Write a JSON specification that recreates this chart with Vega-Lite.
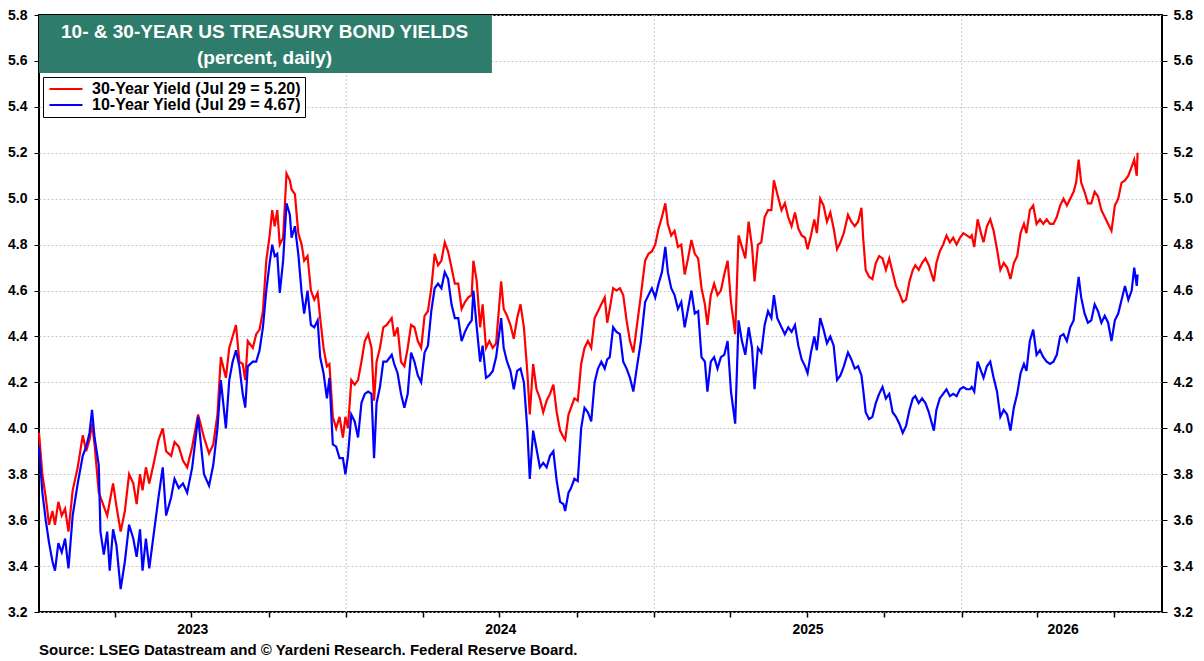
{
  "$schema": "https://vega.github.io/schema/vega-lite/v6.json",
  "width": 1204,
  "height": 661,
  "autosize": {"type": "fit", "contains": "padding"},
  "padding": {"left": 7, "right": 11, "top": 8, "bottom": 3},
  "background": "white",
  "title": {
    "text": "Source: LSEG Datastream and © Yardeni Research. Federal Reserve Board.",
    "orient": "bottom",
    "anchor": "start",
    "frame": "group",
    "fontSize": 15,
    "fontWeight": "bold",
    "color": "black",
    "offset": 7
  },
  "data": {
    "values": [
      {"date": "2023-01-01", "y30": 3.98, "y10": 3.92},
      {"date": "2023-01-05", "y30": 3.80, "y10": 3.72},
      {"date": "2023-01-09", "y30": 3.70, "y10": 3.60},
      {"date": "2023-01-13", "y30": 3.58, "y10": 3.50},
      {"date": "2023-01-17", "y30": 3.64, "y10": 3.42},
      {"date": "2023-01-20", "y30": 3.58, "y10": 3.38},
      {"date": "2023-01-24", "y30": 3.68, "y10": 3.50},
      {"date": "2023-01-28", "y30": 3.62, "y10": 3.46},
      {"date": "2023-02-01", "y30": 3.65, "y10": 3.52},
      {"date": "2023-02-05", "y30": 3.55, "y10": 3.39},
      {"date": "2023-02-10", "y30": 3.73, "y10": 3.62},
      {"date": "2023-02-16", "y30": 3.83, "y10": 3.76},
      {"date": "2023-02-22", "y30": 3.97, "y10": 3.88},
      {"date": "2023-02-26", "y30": 3.90, "y10": 3.92},
      {"date": "2023-03-02", "y30": 3.95, "y10": 3.98},
      {"date": "2023-03-05", "y30": 4.02, "y10": 4.08},
      {"date": "2023-03-08", "y30": 3.93, "y10": 3.96},
      {"date": "2023-03-13", "y30": 3.72, "y10": 3.84},
      {"date": "2023-03-15", "y30": 3.70, "y10": 3.55},
      {"date": "2023-03-19", "y30": 3.66, "y10": 3.45},
      {"date": "2023-03-23", "y30": 3.62, "y10": 3.55},
      {"date": "2023-03-26", "y30": 3.68, "y10": 3.38},
      {"date": "2023-03-30", "y30": 3.76, "y10": 3.56},
      {"date": "2023-04-03", "y30": 3.66, "y10": 3.49},
      {"date": "2023-04-08", "y30": 3.55, "y10": 3.30},
      {"date": "2023-04-13", "y30": 3.64, "y10": 3.42},
      {"date": "2023-04-18", "y30": 3.80, "y10": 3.58},
      {"date": "2023-04-23", "y30": 3.76, "y10": 3.52},
      {"date": "2023-04-27", "y30": 3.67, "y10": 3.44},
      {"date": "2023-05-01", "y30": 3.80, "y10": 3.56},
      {"date": "2023-05-04", "y30": 3.73, "y10": 3.38},
      {"date": "2023-05-08", "y30": 3.83, "y10": 3.52},
      {"date": "2023-05-12", "y30": 3.76, "y10": 3.39},
      {"date": "2023-05-18", "y30": 3.86, "y10": 3.56},
      {"date": "2023-05-23", "y30": 3.95, "y10": 3.70},
      {"date": "2023-05-28", "y30": 4.00, "y10": 3.83},
      {"date": "2023-06-01", "y30": 3.90, "y10": 3.62},
      {"date": "2023-06-07", "y30": 3.88, "y10": 3.70},
      {"date": "2023-06-11", "y30": 3.94, "y10": 3.78},
      {"date": "2023-06-16", "y30": 3.92, "y10": 3.74},
      {"date": "2023-06-21", "y30": 3.86, "y10": 3.76},
      {"date": "2023-06-26", "y30": 3.83, "y10": 3.72},
      {"date": "2023-07-02", "y30": 3.92, "y10": 3.83},
      {"date": "2023-07-09", "y30": 4.06, "y10": 4.05},
      {"date": "2023-07-16", "y30": 3.96, "y10": 3.80},
      {"date": "2023-07-22", "y30": 3.89, "y10": 3.75},
      {"date": "2023-07-27", "y30": 3.93, "y10": 3.84},
      {"date": "2023-08-01", "y30": 4.06, "y10": 4.00},
      {"date": "2023-08-05", "y30": 4.31, "y10": 4.21},
      {"date": "2023-08-11", "y30": 4.22, "y10": 4.00},
      {"date": "2023-08-15", "y30": 4.35, "y10": 4.21},
      {"date": "2023-08-19", "y30": 4.40, "y10": 4.29},
      {"date": "2023-08-23", "y30": 4.45, "y10": 4.34},
      {"date": "2023-08-27", "y30": 4.29, "y10": 4.27},
      {"date": "2023-08-31", "y30": 4.28, "y10": 4.15},
      {"date": "2023-09-03", "y30": 4.21, "y10": 4.09},
      {"date": "2023-09-06", "y30": 4.38, "y10": 4.27},
      {"date": "2023-09-12", "y30": 4.35, "y10": 4.29},
      {"date": "2023-09-16", "y30": 4.41, "y10": 4.29},
      {"date": "2023-09-20", "y30": 4.43, "y10": 4.34},
      {"date": "2023-09-24", "y30": 4.51, "y10": 4.44},
      {"date": "2023-09-28", "y30": 4.73, "y10": 4.60},
      {"date": "2023-10-02", "y30": 4.84, "y10": 4.72},
      {"date": "2023-10-05", "y30": 4.95, "y10": 4.80},
      {"date": "2023-10-08", "y30": 4.88, "y10": 4.75},
      {"date": "2023-10-11", "y30": 4.95, "y10": 4.76},
      {"date": "2023-10-14", "y30": 4.80, "y10": 4.59},
      {"date": "2023-10-18", "y30": 4.83, "y10": 4.73},
      {"date": "2023-10-22", "y30": 5.11, "y10": 4.98},
      {"date": "2023-10-26", "y30": 5.08, "y10": 4.93},
      {"date": "2023-10-28", "y30": 5.04, "y10": 4.83},
      {"date": "2023-11-01", "y30": 5.02, "y10": 4.88},
      {"date": "2023-11-05", "y30": 4.85, "y10": 4.76},
      {"date": "2023-11-09", "y30": 4.80, "y10": 4.59},
      {"date": "2023-11-12", "y30": 4.73, "y10": 4.50},
      {"date": "2023-11-16", "y30": 4.75, "y10": 4.60},
      {"date": "2023-11-20", "y30": 4.60, "y10": 4.45},
      {"date": "2023-11-24", "y30": 4.56, "y10": 4.44},
      {"date": "2023-11-28", "y30": 4.59, "y10": 4.47},
      {"date": "2023-12-01", "y30": 4.48, "y10": 4.31},
      {"date": "2023-12-05", "y30": 4.35, "y10": 4.24},
      {"date": "2023-12-09", "y30": 4.27, "y10": 4.13},
      {"date": "2023-12-12", "y30": 4.28, "y10": 4.22},
      {"date": "2023-12-16", "y30": 4.05, "y10": 3.93},
      {"date": "2023-12-20", "y30": 4.00, "y10": 3.92},
      {"date": "2023-12-24", "y30": 4.05, "y10": 3.87},
      {"date": "2023-12-28", "y30": 3.96, "y10": 3.87},
      {"date": "2023-12-31", "y30": 4.05, "y10": 3.80},
      {"date": "2024-01-03", "y30": 4.00, "y10": 3.88},
      {"date": "2024-01-07", "y30": 4.21, "y10": 4.06},
      {"date": "2024-01-11", "y30": 4.19, "y10": 4.03},
      {"date": "2024-01-15", "y30": 4.21, "y10": 3.96},
      {"date": "2024-01-19", "y30": 4.29, "y10": 4.11},
      {"date": "2024-01-23", "y30": 4.38, "y10": 4.15},
      {"date": "2024-01-27", "y30": 4.41, "y10": 4.16},
      {"date": "2024-01-31", "y30": 4.35, "y10": 4.15},
      {"date": "2024-02-03", "y30": 4.12, "y10": 3.87},
      {"date": "2024-02-06", "y30": 4.29, "y10": 4.11},
      {"date": "2024-02-10", "y30": 4.35, "y10": 4.18},
      {"date": "2024-02-14", "y30": 4.44, "y10": 4.29},
      {"date": "2024-02-18", "y30": 4.45, "y10": 4.29},
      {"date": "2024-02-24", "y30": 4.48, "y10": 4.32},
      {"date": "2024-02-27", "y30": 4.40, "y10": 4.28},
      {"date": "2024-03-02", "y30": 4.44, "y10": 4.24},
      {"date": "2024-03-06", "y30": 4.29, "y10": 4.15},
      {"date": "2024-03-10", "y30": 4.27, "y10": 4.09},
      {"date": "2024-03-14", "y30": 4.35, "y10": 4.15},
      {"date": "2024-03-18", "y30": 4.45, "y10": 4.33},
      {"date": "2024-03-22", "y30": 4.44, "y10": 4.29},
      {"date": "2024-03-26", "y30": 4.38, "y10": 4.23},
      {"date": "2024-03-30", "y30": 4.35, "y10": 4.20},
      {"date": "2024-04-03", "y30": 4.49, "y10": 4.33},
      {"date": "2024-04-07", "y30": 4.51, "y10": 4.36},
      {"date": "2024-04-11", "y30": 4.61, "y10": 4.51},
      {"date": "2024-04-15", "y30": 4.76, "y10": 4.61},
      {"date": "2024-04-19", "y30": 4.71, "y10": 4.63},
      {"date": "2024-04-23", "y30": 4.73, "y10": 4.61},
      {"date": "2024-04-27", "y30": 4.81, "y10": 4.68},
      {"date": "2024-05-01", "y30": 4.77, "y10": 4.65},
      {"date": "2024-05-05", "y30": 4.70, "y10": 4.54},
      {"date": "2024-05-09", "y30": 4.63, "y10": 4.48},
      {"date": "2024-05-13", "y30": 4.63, "y10": 4.48},
      {"date": "2024-05-17", "y30": 4.52, "y10": 4.38},
      {"date": "2024-05-21", "y30": 4.55, "y10": 4.42},
      {"date": "2024-05-25", "y30": 4.57, "y10": 4.45},
      {"date": "2024-05-29", "y30": 4.58, "y10": 4.47},
      {"date": "2024-05-31", "y30": 4.73, "y10": 4.60},
      {"date": "2024-06-04", "y30": 4.64, "y10": 4.44},
      {"date": "2024-06-08", "y30": 4.44, "y10": 4.29},
      {"date": "2024-06-11", "y30": 4.54, "y10": 4.36},
      {"date": "2024-06-15", "y30": 4.35, "y10": 4.22},
      {"date": "2024-06-19", "y30": 4.38, "y10": 4.23},
      {"date": "2024-06-23", "y30": 4.35, "y10": 4.25},
      {"date": "2024-06-27", "y30": 4.37, "y10": 4.31},
      {"date": "2024-07-03", "y30": 4.64, "y10": 4.48},
      {"date": "2024-07-06", "y30": 4.52, "y10": 4.35},
      {"date": "2024-07-10", "y30": 4.49, "y10": 4.29},
      {"date": "2024-07-14", "y30": 4.45, "y10": 4.25},
      {"date": "2024-07-18", "y30": 4.39, "y10": 4.17},
      {"date": "2024-07-22", "y30": 4.48, "y10": 4.25},
      {"date": "2024-07-26", "y30": 4.54, "y10": 4.26},
      {"date": "2024-07-30", "y30": 4.44, "y10": 4.20},
      {"date": "2024-08-03", "y30": 4.25, "y10": 4.00},
      {"date": "2024-08-06", "y30": 4.06, "y10": 3.78},
      {"date": "2024-08-10", "y30": 4.28, "y10": 3.99},
      {"date": "2024-08-14", "y30": 4.17, "y10": 3.91},
      {"date": "2024-08-18", "y30": 4.13, "y10": 3.83},
      {"date": "2024-08-22", "y30": 4.07, "y10": 3.85},
      {"date": "2024-08-26", "y30": 4.12, "y10": 3.83},
      {"date": "2024-08-30", "y30": 4.15, "y10": 3.88},
      {"date": "2024-09-03", "y30": 4.19, "y10": 3.90},
      {"date": "2024-09-07", "y30": 4.07, "y10": 3.77},
      {"date": "2024-09-11", "y30": 3.99, "y10": 3.68},
      {"date": "2024-09-15", "y30": 3.96, "y10": 3.67},
      {"date": "2024-09-17", "y30": 3.95, "y10": 3.64},
      {"date": "2024-09-21", "y30": 4.06, "y10": 3.72},
      {"date": "2024-09-24", "y30": 4.09, "y10": 3.74},
      {"date": "2024-09-28", "y30": 4.13, "y10": 3.78},
      {"date": "2024-10-02", "y30": 4.12, "y10": 3.77},
      {"date": "2024-10-06", "y30": 4.28, "y10": 4.00},
      {"date": "2024-10-10", "y30": 4.35, "y10": 4.09},
      {"date": "2024-10-14", "y30": 4.38, "y10": 4.07},
      {"date": "2024-10-18", "y30": 4.35, "y10": 4.03},
      {"date": "2024-10-22", "y30": 4.48, "y10": 4.20},
      {"date": "2024-10-26", "y30": 4.51, "y10": 4.26},
      {"date": "2024-10-30", "y30": 4.54, "y10": 4.29},
      {"date": "2024-11-03", "y30": 4.57, "y10": 4.26},
      {"date": "2024-11-06", "y30": 4.46, "y10": 4.30},
      {"date": "2024-11-09", "y30": 4.52, "y10": 4.31},
      {"date": "2024-11-13", "y30": 4.61, "y10": 4.44},
      {"date": "2024-11-17", "y30": 4.60, "y10": 4.42},
      {"date": "2024-11-21", "y30": 4.61, "y10": 4.41},
      {"date": "2024-11-25", "y30": 4.58, "y10": 4.29},
      {"date": "2024-11-29", "y30": 4.47, "y10": 4.26},
      {"date": "2024-12-03", "y30": 4.38, "y10": 4.22},
      {"date": "2024-12-07", "y30": 4.33, "y10": 4.16},
      {"date": "2024-12-11", "y30": 4.44, "y10": 4.26},
      {"date": "2024-12-16", "y30": 4.58, "y10": 4.38},
      {"date": "2024-12-21", "y30": 4.73, "y10": 4.55},
      {"date": "2024-12-25", "y30": 4.76, "y10": 4.58},
      {"date": "2024-12-29", "y30": 4.77, "y10": 4.61},
      {"date": "2025-01-02", "y30": 4.80, "y10": 4.57},
      {"date": "2025-01-06", "y30": 4.87, "y10": 4.63},
      {"date": "2025-01-10", "y30": 4.92, "y10": 4.68},
      {"date": "2025-01-14", "y30": 4.98, "y10": 4.79},
      {"date": "2025-01-17", "y30": 4.89, "y10": 4.68},
      {"date": "2025-01-21", "y30": 4.84, "y10": 4.61},
      {"date": "2025-01-25", "y30": 4.86, "y10": 4.58},
      {"date": "2025-01-29", "y30": 4.79, "y10": 4.52},
      {"date": "2025-02-02", "y30": 4.80, "y10": 4.55},
      {"date": "2025-02-06", "y30": 4.67, "y10": 4.44},
      {"date": "2025-02-10", "y30": 4.74, "y10": 4.52},
      {"date": "2025-02-14", "y30": 4.82, "y10": 4.60},
      {"date": "2025-02-18", "y30": 4.76, "y10": 4.50},
      {"date": "2025-02-22", "y30": 4.74, "y10": 4.51},
      {"date": "2025-02-26", "y30": 4.61, "y10": 4.31},
      {"date": "2025-03-02", "y30": 4.54, "y10": 4.29},
      {"date": "2025-03-05", "y30": 4.45, "y10": 4.16},
      {"date": "2025-03-09", "y30": 4.58, "y10": 4.29},
      {"date": "2025-03-13", "y30": 4.63, "y10": 4.31},
      {"date": "2025-03-17", "y30": 4.58, "y10": 4.26},
      {"date": "2025-03-21", "y30": 4.60, "y10": 4.31},
      {"date": "2025-03-25", "y30": 4.67, "y10": 4.32},
      {"date": "2025-03-29", "y30": 4.73, "y10": 4.38},
      {"date": "2025-04-02", "y30": 4.55, "y10": 4.16},
      {"date": "2025-04-07", "y30": 4.41, "y10": 4.02},
      {"date": "2025-04-11", "y30": 4.84, "y10": 4.47},
      {"date": "2025-04-15", "y30": 4.79, "y10": 4.38},
      {"date": "2025-04-19", "y30": 4.74, "y10": 4.32},
      {"date": "2025-04-23", "y30": 4.90, "y10": 4.44},
      {"date": "2025-04-27", "y30": 4.79, "y10": 4.35},
      {"date": "2025-04-30", "y30": 4.64, "y10": 4.17},
      {"date": "2025-05-04", "y30": 4.80, "y10": 4.35},
      {"date": "2025-05-08", "y30": 4.81, "y10": 4.33},
      {"date": "2025-05-12", "y30": 4.92, "y10": 4.45},
      {"date": "2025-05-16", "y30": 4.95, "y10": 4.51},
      {"date": "2025-05-20", "y30": 4.95, "y10": 4.48},
      {"date": "2025-05-23", "y30": 5.08, "y10": 4.58},
      {"date": "2025-05-27", "y30": 5.02, "y10": 4.48},
      {"date": "2025-06-01", "y30": 4.95, "y10": 4.44},
      {"date": "2025-06-05", "y30": 4.98, "y10": 4.41},
      {"date": "2025-06-09", "y30": 4.92, "y10": 4.44},
      {"date": "2025-06-13", "y30": 4.88, "y10": 4.42},
      {"date": "2025-06-17", "y30": 4.94, "y10": 4.45},
      {"date": "2025-06-21", "y30": 4.87, "y10": 4.36},
      {"date": "2025-06-25", "y30": 4.84, "y10": 4.30},
      {"date": "2025-06-29", "y30": 4.83, "y10": 4.27},
      {"date": "2025-07-02", "y30": 4.78, "y10": 4.24},
      {"date": "2025-07-06", "y30": 4.84, "y10": 4.33},
      {"date": "2025-07-10", "y30": 4.91, "y10": 4.40},
      {"date": "2025-07-13", "y30": 4.85, "y10": 4.34},
      {"date": "2025-07-17", "y30": 5.00, "y10": 4.48},
      {"date": "2025-07-21", "y30": 4.97, "y10": 4.43},
      {"date": "2025-07-25", "y30": 4.90, "y10": 4.37},
      {"date": "2025-07-29", "y30": 4.94, "y10": 4.40},
      {"date": "2025-08-02", "y30": 4.87, "y10": 4.36},
      {"date": "2025-08-06", "y30": 4.78, "y10": 4.21},
      {"date": "2025-08-10", "y30": 4.81, "y10": 4.23},
      {"date": "2025-08-14", "y30": 4.85, "y10": 4.27},
      {"date": "2025-08-19", "y30": 4.93, "y10": 4.33},
      {"date": "2025-08-23", "y30": 4.90, "y10": 4.30},
      {"date": "2025-08-27", "y30": 4.88, "y10": 4.26},
      {"date": "2025-08-31", "y30": 4.90, "y10": 4.27},
      {"date": "2025-09-04", "y30": 4.96, "y10": 4.23},
      {"date": "2025-09-06", "y30": 4.83, "y10": 4.17},
      {"date": "2025-09-09", "y30": 4.69, "y10": 4.07},
      {"date": "2025-09-13", "y30": 4.66, "y10": 4.04},
      {"date": "2025-09-17", "y30": 4.65, "y10": 4.05},
      {"date": "2025-09-21", "y30": 4.72, "y10": 4.11},
      {"date": "2025-09-25", "y30": 4.75, "y10": 4.15},
      {"date": "2025-09-29", "y30": 4.74, "y10": 4.18},
      {"date": "2025-10-03", "y30": 4.69, "y10": 4.13},
      {"date": "2025-10-07", "y30": 4.74, "y10": 4.15},
      {"date": "2025-10-11", "y30": 4.68, "y10": 4.07},
      {"date": "2025-10-15", "y30": 4.62, "y10": 4.05},
      {"date": "2025-10-19", "y30": 4.59, "y10": 4.02},
      {"date": "2025-10-23", "y30": 4.55, "y10": 3.98},
      {"date": "2025-10-27", "y30": 4.56, "y10": 4.01},
      {"date": "2025-10-31", "y30": 4.64, "y10": 4.08},
      {"date": "2025-11-04", "y30": 4.69, "y10": 4.13},
      {"date": "2025-11-07", "y30": 4.71, "y10": 4.14},
      {"date": "2025-11-11", "y30": 4.69, "y10": 4.11},
      {"date": "2025-11-15", "y30": 4.72, "y10": 4.13},
      {"date": "2025-11-19", "y30": 4.74, "y10": 4.11},
      {"date": "2025-11-23", "y30": 4.71, "y10": 4.07},
      {"date": "2025-11-29", "y30": 4.64, "y10": 3.99},
      {"date": "2025-12-02", "y30": 4.72, "y10": 4.08},
      {"date": "2025-12-06", "y30": 4.77, "y10": 4.13},
      {"date": "2025-12-10", "y30": 4.80, "y10": 4.15},
      {"date": "2025-12-14", "y30": 4.84, "y10": 4.17},
      {"date": "2025-12-18", "y30": 4.81, "y10": 4.14},
      {"date": "2025-12-22", "y30": 4.83, "y10": 4.15},
      {"date": "2025-12-26", "y30": 4.80, "y10": 4.14},
      {"date": "2025-12-30", "y30": 4.83, "y10": 4.17},
      {"date": "2026-01-03", "y30": 4.85, "y10": 4.18},
      {"date": "2026-01-07", "y30": 4.84, "y10": 4.17},
      {"date": "2026-01-11", "y30": 4.83, "y10": 4.17},
      {"date": "2026-01-13", "y30": 4.84, "y10": 4.18},
      {"date": "2026-01-16", "y30": 4.79, "y10": 4.16},
      {"date": "2026-01-20", "y30": 4.91, "y10": 4.29},
      {"date": "2026-01-24", "y30": 4.85, "y10": 4.25},
      {"date": "2026-01-27", "y30": 4.81, "y10": 4.22},
      {"date": "2026-01-31", "y30": 4.88, "y10": 4.27},
      {"date": "2026-02-04", "y30": 4.91, "y10": 4.29},
      {"date": "2026-02-08", "y30": 4.86, "y10": 4.22},
      {"date": "2026-02-12", "y30": 4.78, "y10": 4.16},
      {"date": "2026-02-16", "y30": 4.69, "y10": 4.05},
      {"date": "2026-02-20", "y30": 4.72, "y10": 4.08},
      {"date": "2026-02-24", "y30": 4.70, "y10": 4.06},
      {"date": "2026-02-28", "y30": 4.65, "y10": 3.99},
      {"date": "2026-03-04", "y30": 4.72, "y10": 4.09},
      {"date": "2026-03-08", "y30": 4.75, "y10": 4.15},
      {"date": "2026-03-12", "y30": 4.85, "y10": 4.24},
      {"date": "2026-03-16", "y30": 4.89, "y10": 4.28},
      {"date": "2026-03-19", "y30": 4.85, "y10": 4.25},
      {"date": "2026-03-23", "y30": 4.95, "y10": 4.38},
      {"date": "2026-03-27", "y30": 4.97, "y10": 4.43},
      {"date": "2026-03-31", "y30": 4.89, "y10": 4.32},
      {"date": "2026-04-04", "y30": 4.91, "y10": 4.34},
      {"date": "2026-04-08", "y30": 4.89, "y10": 4.31},
      {"date": "2026-04-12", "y30": 4.91, "y10": 4.29},
      {"date": "2026-04-16", "y30": 4.89, "y10": 4.28},
      {"date": "2026-04-20", "y30": 4.89, "y10": 4.29},
      {"date": "2026-04-24", "y30": 4.92, "y10": 4.32},
      {"date": "2026-04-28", "y30": 4.97, "y10": 4.40},
      {"date": "2026-05-02", "y30": 5.00, "y10": 4.41},
      {"date": "2026-05-06", "y30": 4.97, "y10": 4.38},
      {"date": "2026-05-10", "y30": 5.00, "y10": 4.44},
      {"date": "2026-05-14", "y30": 5.03, "y10": 4.47},
      {"date": "2026-05-17", "y30": 5.07, "y10": 4.57},
      {"date": "2026-05-20", "y30": 5.17, "y10": 4.66},
      {"date": "2026-05-23", "y30": 5.07, "y10": 4.57},
      {"date": "2026-05-27", "y30": 5.03, "y10": 4.50},
      {"date": "2026-05-31", "y30": 4.98, "y10": 4.46},
      {"date": "2026-06-04", "y30": 4.98, "y10": 4.47},
      {"date": "2026-06-08", "y30": 5.03, "y10": 4.54},
      {"date": "2026-06-12", "y30": 5.01, "y10": 4.51},
      {"date": "2026-06-16", "y30": 4.95, "y10": 4.46},
      {"date": "2026-06-20", "y30": 4.92, "y10": 4.49},
      {"date": "2026-06-24", "y30": 4.89, "y10": 4.46},
      {"date": "2026-06-28", "y30": 4.86, "y10": 4.38},
      {"date": "2026-07-02", "y30": 4.97, "y10": 4.47},
      {"date": "2026-07-06", "y30": 5.00, "y10": 4.50},
      {"date": "2026-07-10", "y30": 5.07, "y10": 4.56},
      {"date": "2026-07-14", "y30": 5.08, "y10": 4.62},
      {"date": "2026-07-18", "y30": 5.10, "y10": 4.56},
      {"date": "2026-07-22", "y30": 5.14, "y10": 4.60},
      {"date": "2026-07-25", "y30": 5.17, "y10": 4.70},
      {"date": "2026-07-28", "y30": 5.10, "y10": 4.62},
      {"date": "2026-07-29", "y30": 5.20, "y10": 4.67}
    ]
  },
  "layer": [
    {
      "data": {"values": [{"year_start": "2024-01-01"}, {"year_start": "2025-01-01"}, {"year_start": "2026-01-01"}]},
      "mark": {"type": "rule", "color": "#c8c8c8", "strokeWidth": 1, "strokeDash": [2, 2]},
      "encoding": {
        "x": {
          "field": "year_start",
          "type": "temporal",
          "scale": {
            "type": "utc",
            "domain": [
              {"year": 2023, "month": 1, "date": 1, "utc": true},
              {"year": 2026, "month": 8, "date": 27, "utc": true}
            ]
          },
          "axis": null
        }
      }
    },
    {
      "data": {"values": [{}]},
      "mark": {"type": "rect", "color": "#2e7d6c"},
      "encoding": {
        "x": {"datum": {"year": 2023, "month": 1, "date": 1, "utc": true}, "type": "temporal", "axis": null},
        "x2": {"datum": {"year": 2024, "month": 6, "date": 22, "utc": true}},
        "y": {
          "datum": 5.8,
          "type": "quantitative",
          "scale": {"domain": [3.2, 5.8], "nice": false, "zero": false},
          "axis": null
        },
        "y2": {"datum": 5.547}
      }
    },
    {
      "data": {"values": [{}]},
      "mark": {
        "type": "text",
        "text": ["10- & 30-YEAR US TREASURY BOND YIELDS", "(percent, daily)"],
        "lineHeight": 26,
        "color": "white",
        "fontSize": 19,
        "fontWeight": "bold",
        "align": "center",
        "baseline": "middle"
      },
      "encoding": {
        "x": {"datum": {"year": 2023, "month": 9, "date": 26, "utc": true}, "type": "temporal", "axis": null},
        "y": {"datum": 5.726, "type": "quantitative", "axis": null}
      }
    },
    {
      "mark": {"type": "line", "strokeWidth": 2.2},
      "encoding": {
        "x": {
          "field": "date",
          "type": "temporal",
          "axis": {
            "orient": "bottom",
            "title": null,
            "values": [
              {"year": 2023, "month": 4, "date": 1, "utc": true},
              {"year": 2023, "month": 7, "date": 1, "utc": true},
              {"year": 2023, "month": 10, "date": 1, "utc": true},
              {"year": 2024, "month": 1, "date": 1, "utc": true},
              {"year": 2024, "month": 4, "date": 1, "utc": true},
              {"year": 2024, "month": 7, "date": 1, "utc": true},
              {"year": 2024, "month": 10, "date": 1, "utc": true},
              {"year": 2025, "month": 1, "date": 1, "utc": true},
              {"year": 2025, "month": 4, "date": 1, "utc": true},
              {"year": 2025, "month": 7, "date": 1, "utc": true},
              {"year": 2025, "month": 10, "date": 1, "utc": true},
              {"year": 2026, "month": 1, "date": 1, "utc": true},
              {"year": 2026, "month": 4, "date": 1, "utc": true},
              {"year": 2026, "month": 7, "date": 1, "utc": true}
            ],
            "labels": false,
            "grid": false,
            "domain": false,
            "tickSize": 5,
            "tickWidth": 1.5,
            "tickColor": "black"
          }
        },
        "y": {
          "field": "y30",
          "type": "quantitative",
          "axis": {
            "orient": "left",
            "title": null,
            "values": [3.2, 3.4, 3.6, 3.8, 4.0, 4.2, 4.4, 4.6, 4.8, 5.0, 5.2, 5.4, 5.6, 5.8],
            "format": ".1f",
            "grid": true,
            "gridDash": [2, 2],
            "gridColor": "#c8c8c8",
            "domain": false,
            "tickSize": 5,
            "tickColor": "black",
            "labelPadding": 7,
            "labelFontSize": 14,
            "labelFontWeight": "bold",
            "labelColor": "black"
          }
        },
        "color": {
          "datum": "30-Year Yield (Jul 29 = 5.20)",
          "type": "nominal",
          "scale": {
            "domain": ["30-Year Yield (Jul 29 = 5.20)", "10-Year Yield (Jul 29 = 4.67)"],
            "range": ["#ff0000", "#0000ff"]
          },
          "legend": {
            "title": null,
            "orient": "none",
            "legendX": 4,
            "legendY": 62,
            "symbolType": "M-1,0H5",
            "symbolSize": 121,
            "symbolStrokeWidth": 2,
            "labelFontSize": 16,
            "labelFontWeight": "bold",
            "labelColor": "black",
            "labelLimit": 400,
            "labelOffset": 29,
            "strokeColor": "black",
            "fillColor": "white",
            "padding": 4,
            "rowPadding": 0
          }
        }
      }
    },
    {
      "mark": {"type": "line", "strokeWidth": 2.2},
      "encoding": {
        "x": {
          "field": "date",
          "type": "temporal",
          "axis": {
            "orient": "bottom",
            "title": null,
            "values": [
              {"year": 2023, "month": 7, "date": 2, "utc": true},
              {"year": 2024, "month": 7, "date": 2, "utc": true},
              {"year": 2025, "month": 7, "date": 2, "utc": true},
              {"year": 2026, "month": 5, "date": 1, "utc": true}
            ],
            "labelExpr": "utcFormat(datum.value, '%Y')",
            "ticks": false,
            "grid": false,
            "domain": false,
            "labelPadding": 10,
            "labelFontSize": 14,
            "labelFontWeight": "bold",
            "labelColor": "black",
            "labelOverlap": false,
            "labelFlush": false
          }
        },
        "y": {
          "field": "y10",
          "type": "quantitative",
          "axis": {
            "orient": "right",
            "title": null,
            "values": [3.2, 3.4, 3.6, 3.8, 4.0, 4.2, 4.4, 4.6, 4.8, 5.0, 5.2, 5.4, 5.6, 5.8],
            "format": ".1f",
            "grid": false,
            "domain": false,
            "tickSize": 5,
            "tickColor": "black",
            "labelPadding": 6,
            "labelFontSize": 14,
            "labelFontWeight": "bold",
            "labelColor": "black"
          }
        },
        "color": {"datum": "10-Year Yield (Jul 29 = 4.67)", "type": "nominal"}
      }
    }
  ],
  "resolve": {"axis": {"x": "independent", "y": "independent"}},
  "config": {
    "font": "Liberation Sans",
    "view": {"stroke": "black", "strokeWidth": 2},
    "axisX": {"grid": false}
  }
}
